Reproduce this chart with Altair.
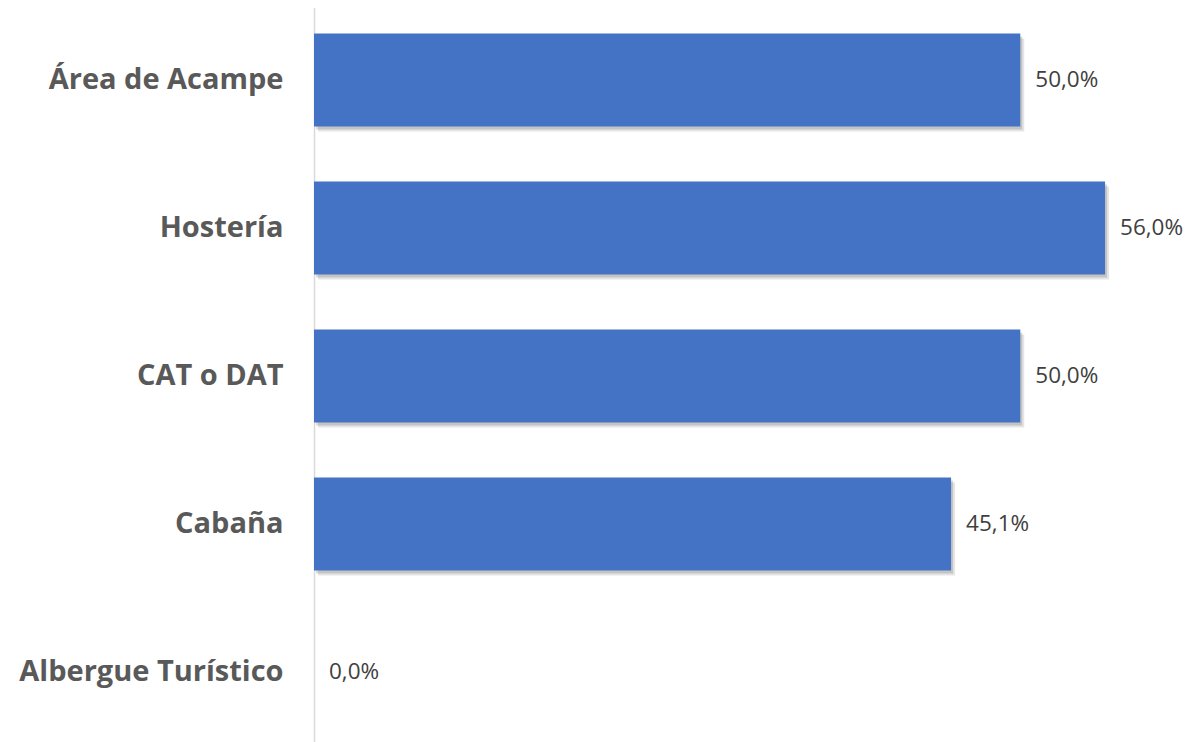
import altair as alt
import pandas as pd

categories = ["Área de Acampe", "Hostería", "CAT o DAT", "Cabaña", "Albergue Turístico"]
values = [50.0, 56.0, 50.0, 45.1, 0.0]

df = pd.DataFrame({"cat": categories, "v": values})

y_enc = alt.Y("cat:N", sort=categories, title=None,
              scale=alt.Scale(paddingInner=0.37, paddingOuter=0.185),
              axis=alt.Axis(labelFont="Open Sans", labelFontWeight="bold", labelFontSize=29,
                            labelColor="#595959", labelPadding=31, ticks=False,
                            domainColor="#d9d9d9", domainWidth=1.5, labelLimit=400))
x_scale = alt.Scale(domain=[0, 61.73], nice=False, zero=True)
x_enc = alt.X("v:Q", scale=x_scale, axis=None)

base = alt.Chart(df)

shadow1 = base.mark_bar(color="#000000", opacity=0.14, xOffset=2, x2Offset=2, yOffset=3, y2Offset=3).encode(x=x_enc, y=y_enc)
shadow2 = base.mark_bar(color="#000000", opacity=0.10, xOffset=4, x2Offset=4, yOffset=5, y2Offset=5).encode(x=x_enc, y=y_enc)
bars = base.mark_bar(color="#4472C4").encode(x=x_enc, y=y_enc)
text = base.transform_calculate(
    label="replace(format(datum.v, '.1f'), '.', ',') + '%'"
).mark_text(align="left", baseline="middle", dx=15, font="Open Sans", fontSize=22.5, color="#404040").encode(
    x=x_enc, y=y_enc, text="label:N")

chart = alt.layer(shadow2, shadow1, bars, text).properties(
    width=872, height=740,
    autosize=alt.AutoSizeParams(type="none"),
    padding={"left": 306, "top": -2, "right": 0, "bottom": 0},
).configure_view(stroke=None).configure(background="white")

chart.save("out.html", embed_options={"renderer": "svg", "actions": False})
